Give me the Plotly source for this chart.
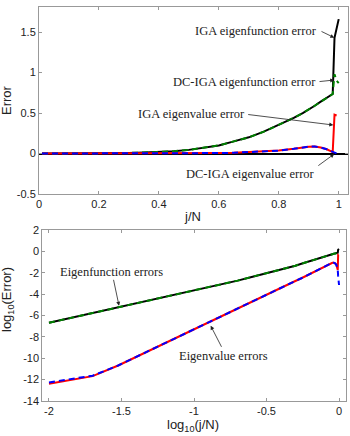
import numpy as np
import plotly.graph_objects as go

# ---------------- data ----------------
jN = [0.01, 0.02, 0.03, 0.05, 0.07, 0.1, 0.15, 0.2, 0.25, 0.3, 0.35, 0.4, 0.45, 0.5,
      0.55, 0.6, 0.65, 0.7, 0.75, 0.8, 0.85, 0.88, 0.9, 0.92, 0.94, 0.96, 0.97, 0.98,
      0.986, 0.993, 1.0]

iga_fn_err = [2.0e-7, 1.6e-6, 5.6e-6, 2.5e-5, 6.9e-5, 2.0e-4, 7.6e-4, 1.8e-3, 4.0e-3, 7.4e-3,
              0.0123, 0.0195, 0.029, 0.045, 0.068, 0.10, 0.15, 0.20, 0.27, 0.35, 0.44, 0.50,
              0.54, 0.59, 0.64, 0.69, 0.71, 0.735, 1.43, 1.56, 1.66]

dc_fn_err = [2.0e-7, 1.6e-6, 5.6e-6, 2.5e-5, 6.9e-5, 2.0e-4, 7.6e-4, 1.8e-3, 4.0e-3, 7.4e-3,
             0.0123, 0.0195, 0.029, 0.045, 0.068, 0.10, 0.15, 0.20, 0.27, 0.35, 0.44, 0.50,
             0.54, 0.59, 0.64, 0.69, 0.71, 0.735, 0.98, 0.90, 0.87]

iga_val_err = [3.8e-13, 2.0e-12, 2.0e-11, 5.6e-10, 5.0e-9, 5.2e-8, 7.6e-7, 5.0e-6, 2.0e-5, 6.3e-5,
               1.7e-4, 4.0e-4, 8.3e-4, 1.66e-3, 3.0e-3, 5.5e-3, 9.5e-3, 0.016, 0.025, 0.036,
               0.058, 0.075, 0.085, 0.086, 0.075, 0.052, 0.036, 0.018, 0.48, 0.47, None]

dc_val_err = [5.2e-13, 2.2e-12, 2.0e-11, 5.6e-10, 5.0e-9, 5.2e-8, 7.6e-7, 5.0e-6, 2.0e-5, 6.3e-5,
              1.7e-4, 4.0e-4, 8.3e-4, 1.66e-3, 3.0e-3, 5.5e-3, 9.5e-3, 0.016, 0.025, 0.036,
              0.058, 0.075, 0.085, 0.086, 0.075, 0.052, 0.036, 0.018, 0.005, 0.0015, 0.0007]

top_xticks = [0, 0.2, 0.4, 0.6, 0.8, 1]
top_xlabels = ["0", "0.2", "0.4", "0.6", "0.8", "1"]
top_yticks = [-0.5, 0, 0.5, 1, 1.5]
top_ylabels = ["-0.5", "0", "0.5", "1", "1.5"]
bot_xticks = [-2, -1.5, -1, -0.5, 0]
bot_xlabels = ["-2", "-1.5", "-1", "-0.5", "0"]
bot_yticks = [2, 0, -2, -4, -6, -8, -10, -12, -14]
bot_ylabels = ["2", "0", "-2", "-4", "-6", "-8", "-10", "-12", "-14"]

# ---------------- figure ----------------
def arr(v):
    return np.array([np.nan if a is None else a for a in v], dtype=float)

x = np.array(jN)
lx = np.log10(x)

series = [
    (iga_fn_err, "#000000", "solid"),
    (dc_fn_err, "#008000", "6px,4px"),
    (iga_val_err, "#ff0000", "solid"),
    (dc_val_err, "#0000ff", "6px,4px"),
]

fig = go.Figure()
for vals, col, dash in series:
    y = arr(vals)
    fig.add_trace(go.Scatter(x=x, y=y, mode="lines", line=dict(color=col, width=2, dash=dash),
                             xaxis="x", yaxis="y", showlegend=False, connectgaps=False))
for vals, col, dash in series:
    y = np.log10(arr(vals))
    fig.add_trace(go.Scatter(x=lx, y=y, mode="lines", line=dict(color=col, width=2, dash=dash),
                             xaxis="x2", yaxis="y2", showlegend=False, connectgaps=False))

tickfont = dict(family="Liberation Sans, Arial, sans-serif", size=11, color="#222")
axcommon = dict(showgrid=False, showline=True, linecolor="#999", linewidth=1, mirror="ticks",
                ticks="inside", ticklen=3, tickcolor="#999", tickfont=tickfont, zeroline=False,
                automargin=False, ticklabeloverflow="allow")

fig.update_layout(
    width=350, height=436,
    margin=dict(l=0, r=0, t=0, b=0, autoexpand=False),
    paper_bgcolor="white", plot_bgcolor="white",
    xaxis=dict(domain=[39/350, 347.7/350], range=[0, 1.03], anchor="y",
               tickvals=top_xticks, ticktext=top_xlabels, **axcommon),
    yaxis=dict(domain=[1-194/436, 1-7/436], range=[-0.5, 1.81], anchor="x",
               tickvals=top_yticks, ticktext=top_ylabels,
               **{**axcommon, "zeroline": True}, zerolinecolor="#000", zerolinewidth=1.5),
    xaxis2=dict(domain=[42.3/350, 345.7/350], range=[-2.046, 0.046], anchor="y2",
                tickvals=bot_xticks, ticktext=bot_xlabels, **axcommon),
    yaxis2=dict(domain=[1-400.7/436, 1-230/436], range=[-14, 2], anchor="x2",
                tickvals=bot_yticks, ticktext=bot_ylabels, **axcommon),
)

serif = dict(family="Liberation Serif, Times New Roman, serif", size=12.5, color="#222")
sans = dict(family="Liberation Sans, Arial, sans-serif", size=13, color="#222")

# text labels
labels = [
    ("IGA eigenfunction error", 0.724, 1.517, "x", "y"),
    ("DC-IGA eigenfunction error", 0.685, 0.88, "x", "y"),
    ("IGA eigenvalue error", 0.5095, 0.484, "x", "y"),
    ("DC-IGA eigenvalue error", 0.706, -0.253, "x", "y"),
    ("Eigenfunction errors", -1.572, -1.91, "x2", "y2"),
    ("Eigenvalue errors", -0.798, -9.78, "x2", "y2"),
]
for t, ax_, ay_, xr, yr in labels:
    fig.add_annotation(text=t, x=ax_, y=ay_, xref=xr, yref=yr, showarrow=False, font=serif,
                       xanchor="center", yanchor="middle")

# arrows (tail -> head)
arrows = [
    (0.9376, 1.517, 0.9853, 1.431, "x", "y"),
    (0.931, 0.887, 0.985, 0.908, "x", "y"),
    (0.693, 0.484, 0.982, 0.352, "x", "y"),
    (0.927, -0.163, 0.985, -0.006, "x", "y"),
    (-1.557, -2.53, -1.517, -5.1, "x2", "y2"),
    (-0.805, -9.09, -0.885, -6.97, "x2", "y2"),
]
for tx, ty, hx, hy, xr, yr in arrows:
    fig.add_annotation(text="", x=hx, y=hy, ax=tx, ay=ty, xref=xr, yref=yr, axref=xr, ayref=yr,
                       showarrow=True, arrowhead=2, arrowsize=1, arrowwidth=0.8,
                       arrowcolor="#222", standoff=0, startstandoff=0)

# axis titles
fig.add_annotation(text="Error", x=7/350, y=1-100/436, xref="paper", yref="paper",
                   textangle=-90, showarrow=False, font=sans, xanchor="center", yanchor="middle")
fig.add_annotation(text="j/N", x=193/350, y=1-207/436, xref="paper", yref="paper",
                   showarrow=False, font=sans, xanchor="center", yanchor="top")
fig.add_annotation(text="log<sub>10</sub>(Error)", x=7/350, y=1-300/436, xref="paper", yref="paper",
                   textangle=-90, showarrow=False, font=sans, xanchor="center", yanchor="middle")
fig.add_annotation(text="log<sub>10</sub>(j/N)", x=193/350, y=1-415/436, xref="paper", yref="paper",
                   showarrow=False, font=sans, xanchor="center", yanchor="top")

fig.write_html("out.html", config={"displayModeBar": False},
               post_script="document.body.style.margin='0';document.body.style.padding='0';")
